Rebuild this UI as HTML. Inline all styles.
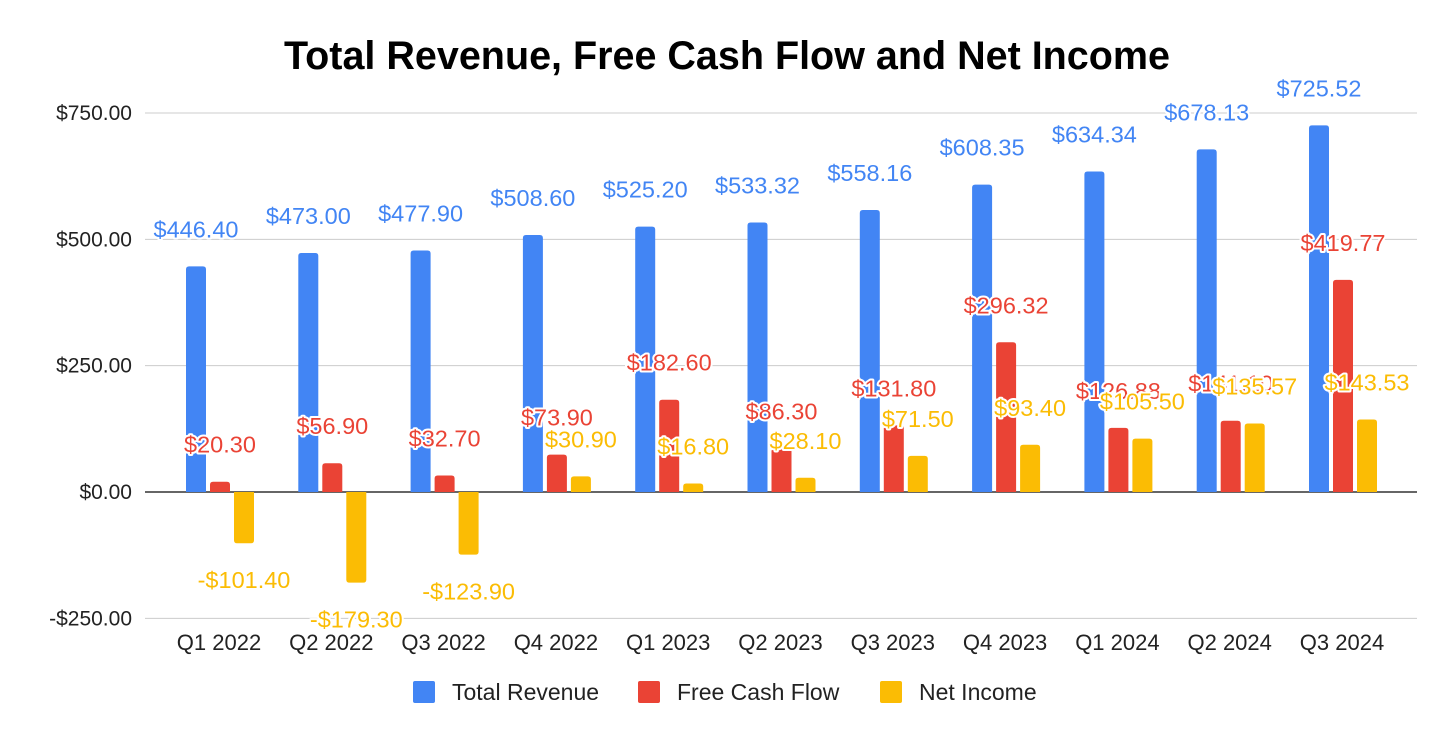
<!DOCTYPE html>
<html><head><meta charset="utf-8"><style>
body{margin:0;background:#fff;}
svg{display:block;font-family:"Liberation Sans",Arial,sans-serif;}
.lbl{font-size:23.5px;paint-order:stroke;stroke:#fff;stroke-width:4px;stroke-linejoin:round;text-anchor:middle;}
</style></head><body>
<svg id="chart" width="1454" height="742" viewBox="0 0 1454 742">
<text x="727" y="69" text-anchor="middle" font-size="39.5" font-weight="bold" fill="#000">Total Revenue, Free Cash Flow and Net Income</text>
<g id="grid"></g><g id="bars"></g><g id="labels"></g>
<g>
<rect x="413" y="681" width="22" height="22" rx="2" fill="#4285f4"/>
<text x="452" y="700" font-size="23" fill="#222">Total Revenue</text>
<rect x="638" y="681" width="22" height="22" rx="2" fill="#ea4335"/>
<text x="677" y="700" font-size="23" fill="#222">Free Cash Flow</text>
<rect x="880" y="681" width="22" height="22" rx="2" fill="#fbbc04"/>
<text x="919" y="700" font-size="23" fill="#222">Net Income</text>
</g>
</svg>
<script>
const categories=["Q1 2022","Q2 2022","Q3 2022","Q4 2022","Q1 2023","Q2 2023","Q3 2023","Q4 2023","Q1 2024","Q2 2024","Q3 2024"];
const revenue=[446.40,473.00,477.90,508.60,525.20,533.32,558.16,608.35,634.34,678.13,725.52];
const fcf=[20.30,56.90,32.70,73.90,182.60,86.30,131.80,296.32,126.88,141.10,419.77];
const income=[-101.40,-179.30,-123.90,30.90,16.80,28.10,71.50,93.40,105.50,135.57,143.53];
const yTicks=[-250,0,250,500,750];
const NS="http://www.w3.org/2000/svg";
const y=v=>492-v*(379/750);
const xc=i=>220+i*112.3;
function mk(tag,attrs,parent,txt){const e=document.createElementNS(NS,tag);for(const k in attrs)e.setAttribute(k,attrs[k]);if(txt!==undefined)e.textContent=txt;document.getElementById(parent).appendChild(e);return e;}
const fmt=v=>(v<0?"-$":"$")+Math.abs(v).toFixed(2);
yTicks.forEach(t=>{
 const l=mk("line",{x1:145,x2:1417,y1:y(t),y2:y(t),stroke:t===0?"#333":"#ccc","stroke-width":t===0?1.5:1},"grid");
 
 
 const tx=mk("text",{x:132,y:y(t)+7,"text-anchor":"end","font-size":21,fill:"#222"},"grid",fmt(t));
 
 
});
categories.forEach((c,i)=>{
 const tx=mk("text",{x:xc(i)-1,y:650,"text-anchor":"middle","font-size":22,fill:"#222"},"grid",c);
 
 
});
const series=[[revenue,"#4285f4",-24,"revenue"],[fcf,"#ea4335",0,"fcf"],[income,"#fbbc04",24,"income"]];
series.forEach(([arr,col,off,nm])=>{
 arr.forEach((v,i)=>{
  const cx=xc(i)+off, top=Math.min(y(v),y(0)), h=Math.abs(y(v)-y(0));
  const r=mk("path",{d:`M${cx-10},${top+(v>=0?3:0)} ${v>=0?`q0,-3 3,-3 h14 q3,0 3,3`:`h20`} V${top+h-(v<0?3:0)} ${v<0?`q0,3 -3,3 h-14 q-3,0 -3,-3`:`h-20`} Z`,fill:col},"bars");
  
  
  const ly=v>=0?y(v)-37+8:y(v)+37+8;
  const t=mk("text",{x:cx,y:ly,class:"lbl",fill:col},"labels",fmt(v));
  
  
 });
});
</script>
</body></html>
